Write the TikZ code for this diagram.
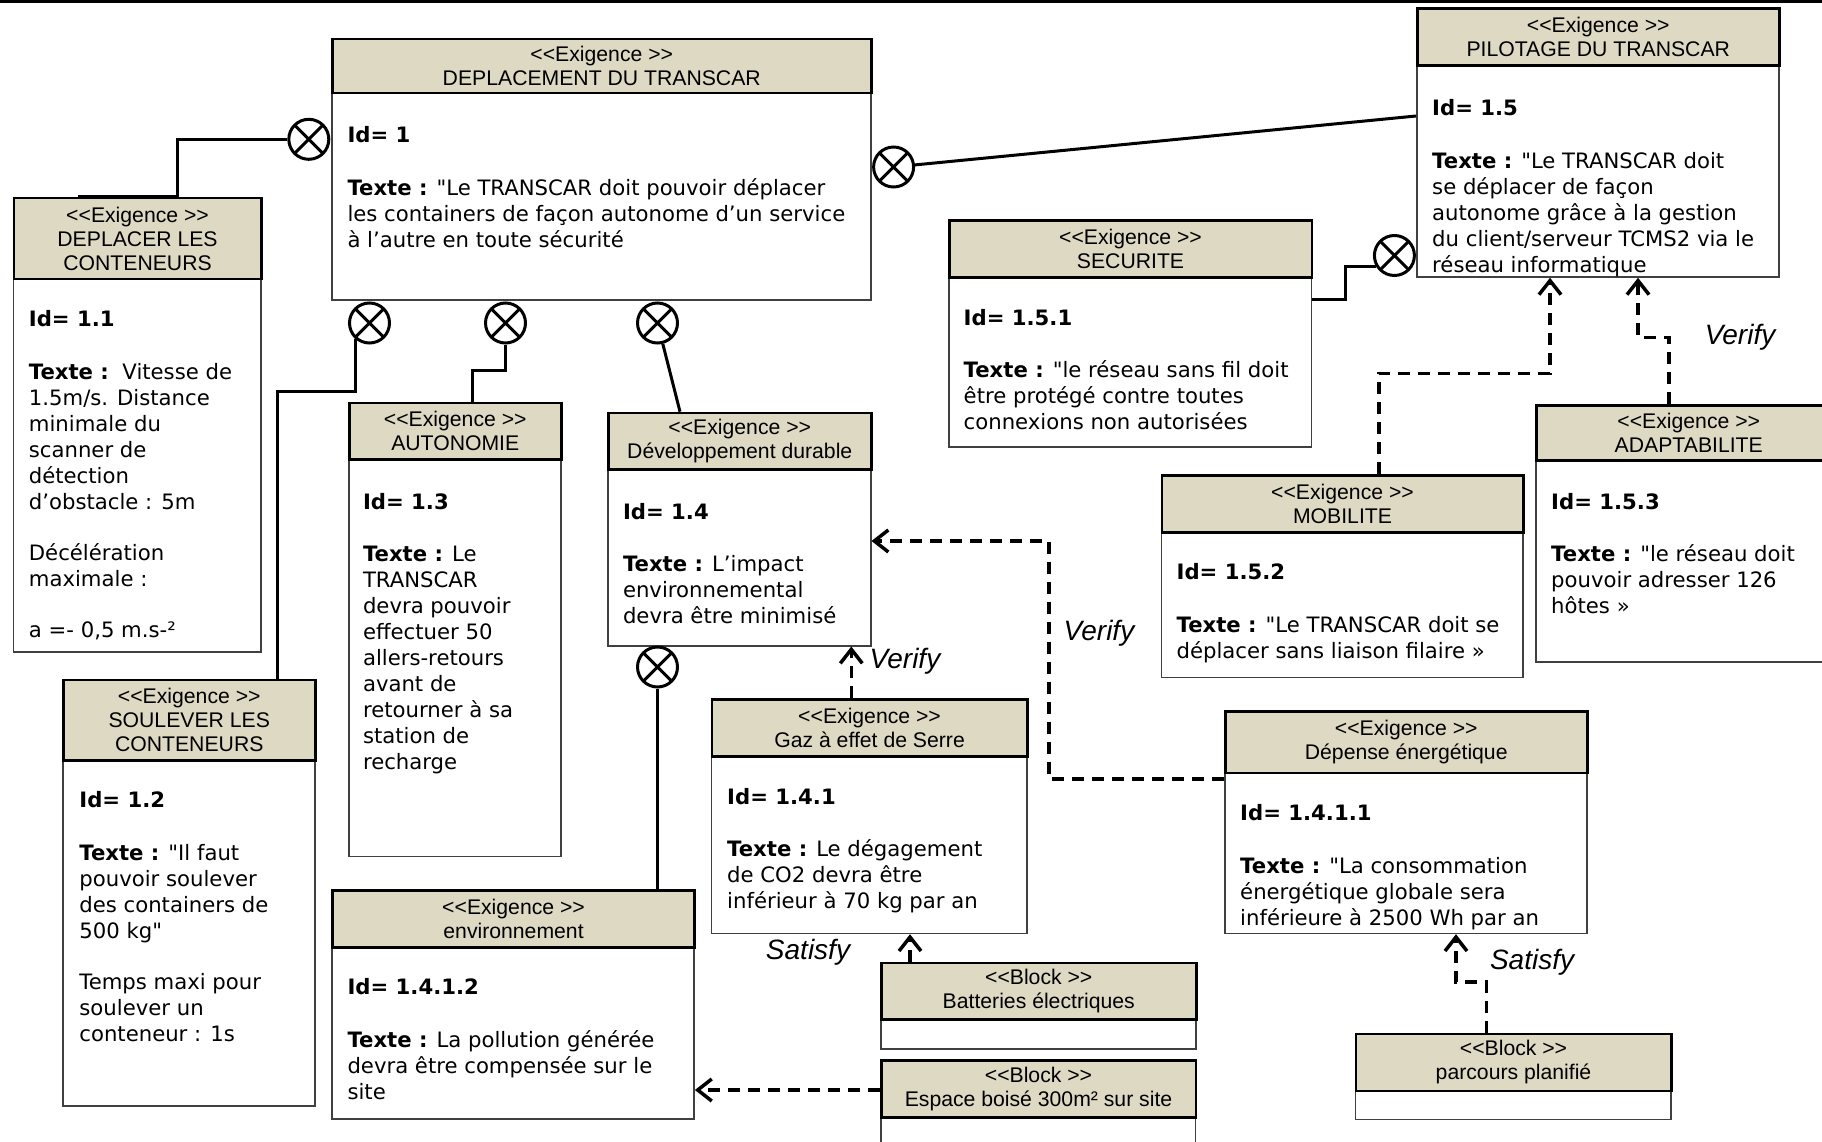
\documentclass[tikz,border=0pt]{standalone}
\usepackage{fontspec}
\setmainfont{DejaVu Sans}[Ligatures=TeXOff]
\newfontfamily\hdrfont{Liberation Sans}
\usetikzlibrary{arrows.meta}

\definecolor{hdrfill}{RGB}{221,217,195}

\newcommand\stereo[1]{<{}<#1 >{}>}

% requirement / block box: name, left, top, header bottom, right, bottom, header text
\newcommand\reqbox[7]{%
  \node[bodybox, minimum width={#5-#2}, minimum height={#6-#4}] (#1B) at (#2,#4) {};
  \node[hdrbox, minimum width={#5-#2}, minimum height={#4-#3}] (#1H) at (#2,#3) {#7};
}

\tikzset{
  x=1pt, y=-1pt,
  hdrbox/.style={draw=black, line width=2.5pt, fill=hdrfill, inner sep=0pt,
    align=center, anchor=north west,
    font=\hdrfont\fontsize{21.2pt}{24pt}\selectfont},
  bodybox/.style={draw=black!75, line width=1.5pt, fill=white, inner sep=0pt,
    anchor=north west},
  bodytext/.style={inner sep=0pt, anchor=north west, align=left,
    font=\fontsize{21.2pt}{26pt}\selectfont},
  xcirc/.style={circle, draw, line width=3pt, minimum size=40pt, inner sep=0pt,
    fill=white, path picture={\draw[line width=3pt]
      (path picture bounding box.north west) -- (path picture bounding box.south east)
      (path picture bounding box.north east) -- (path picture bounding box.south west);}},
  conn/.style={line width=3pt},
  trace/.style={line width=3.5pt, dash pattern=on 12pt off 8pt,
    -{Straight Barb[length=14pt,width=22pt]}},
  lbl/.style={inner sep=0pt, font=\hdrfont\itshape\fontsize{28pt}{30pt}\selectfont},
}

\begin{document}
\begin{tikzpicture}
\useasboundingbox (0,0) rectangle (1822,1142);
\clip (0,0) rectangle (1822,1142);
\fill[white] (0,0) rectangle (1822,1142);
\draw[line width=3pt] (0,1.5) -- (1822,1.5);

% ---- requirement boxes ----
\reqbox{dep}{331}{38}{92}{870}{299}{\stereo{Exigence}\\DEPLACEMENT DU TRANSCAR}
\reqbox{dpc}{12.6}{196.7}{277.7}{260}{651}{\stereo{Exigence}\\DEPLACER LES\\CONTENEURS}
\reqbox{slv}{62}{678.5}{759.3}{314}{1105}{\stereo{Exigence}\\SOULEVER LES\\CONTENEURS}
\reqbox{aut}{348}{401.7}{458.3}{560}{855.7}{\stereo{Exigence}\\AUTONOMIE}
\reqbox{dev}{607}{411.7}{468.3}{870}{645}{\stereo{Exigence}\\Développement durable}
\reqbox{gaz}{710.6}{698.3}{755}{1026}{932.7}{\stereo{Exigence}\\Gaz à effet de Serre}
\reqbox{env}{331.2}{889}{946}{693.4}{1118.3}{\stereo{Exigence}\\environnement}
\reqbox{nrj}{1224}{710}{771.7}{1586}{932.7}{\stereo{Exigence}\\Dépense énergétique}
\reqbox{pil}{1416}{7.5}{64.3}{1778}{276.3}{\stereo{Exigence}\\PILOTAGE DU TRANSCAR}
\reqbox{sec}{948}{219.3}{276}{1310.5}{446}{\stereo{Exigence}\\SECURITE}
\reqbox{mob}{1160.5}{474}{531}{1522}{676.7}{\stereo{Exigence}\\MOBILITE}
\reqbox{ada}{1535}{404}{459.3}{1840}{661}{\stereo{Exigence}\\ADAPTABILITE}

% ---- blocks ----
\reqbox{bat}{880}{961.7}{1018.3}{1195}{1048}{\stereo{Block}\\Batteries électriques}
\reqbox{esp}{880}{1059.3}{1116}{1194.5}{1160}{\stereo{Block}\\Espace boisé 300m² sur site}
\reqbox{par}{1354.5}{1032.5}{1089.5}{1670}{1118.7}{\stereo{Block}\\parcours planifié}

% ---- requirement texts ----
\node[bodytext] (depT) at (347.3,126) {\textbf{Id= 1}\\[27pt]\textbf{Texte :} "Le TRANSCAR doit pouvoir déplacer\\les containers de façon autonome d’un service\\à l’autre en toute sécurité};
\node[bodytext] (dpcT) at (28.7,310.3) {\textbf{Id= 1.1}\\[27pt]\textbf{Texte :}\ \ Vitesse de\\1.5m/s. Distance\\minimale du\\scanner de\\détection\\d’obstacle : 5m\\[25pt]Décélération\\maximale :\\[25pt]a =- 0,5 m.s-²};
\node[bodytext] (slvT) at (79.2,791) {\textbf{Id= 1.2}\\[27pt]\textbf{Texte :} "Il faut\\pouvoir soulever\\des containers de\\500 kg"\\[25.5pt]Temps maxi pour\\soulever un\\conteneur : 1s};
\node[bodytext] (autT) at (362.8,492.7) {\textbf{Id= 1.3}\\[26pt]\textbf{Texte :} Le\\TRANSCAR\\devra pouvoir\\effectuer 50\\allers-retours\\avant de\\retourner à sa\\station de\\recharge};
\node[bodytext] (devT) at (622.8,502.7) {\textbf{Id= 1.4}\\[26pt]\textbf{Texte :} L’impact\\environnemental\\devra être minimisé};
\node[bodytext] (gazT) at (727,787.7) {\textbf{Id= 1.4.1}\\[26.5pt]\textbf{Texte :} Le dégagement\\de CO2 devra être\\inférieur à 70 kg par an};
\node[bodytext] (envT) at (347.3,978.3) {\textbf{Id= 1.4.1.2}\\[27pt]\textbf{Texte :} La pollution générée\\devra être compensée sur le\\site};
\node[bodytext] (nrjT) at (1240,804.3) {\textbf{Id= 1.4.1.1}\\[27pt]\textbf{Texte :} "La consommation\\énergétique globale sera\\inférieure à 2500 Wh par an};
\node[bodytext] (pilT) at (1432,99) {\textbf{Id= 1.5}\\[27pt]\textbf{Texte :} "Le TRANSCAR doit\\se déplacer de façon\\autonome grâce à la gestion\\du client/serveur TCMS2 via le\\réseau informatique};
\node[bodytext] (secT) at (963.5,309.3) {\textbf{Id= 1.5.1}\\[26pt]\textbf{Texte :} "le réseau sans fil doit\\être protégé contre toutes\\connexions non autorisées};
\node[bodytext] (mobT) at (1176.4,563.3) {\textbf{Id= 1.5.2}\\[26.5pt]\textbf{Texte :} "Le TRANSCAR doit se\\déplacer sans liaison filaire »};
\node[bodytext] (adaT) at (1551,492.7) {\textbf{Id= 1.5.3}\\[26.5pt]\textbf{Texte :} "le réseau doit\\pouvoir adresser 126\\hôtes »};

% ---- containment markers ----
\node[xcirc] (c1) at (308.8,139.3) {};
\node[xcirc] (c2) at (893.6,167) {};
\node[xcirc] (c3) at (369.5,323) {};
\node[xcirc] (c4) at (505.5,323) {};
\node[xcirc] (c5) at (657.5,323) {};
\node[xcirc] (c6) at (657.5,667) {};
\node[xcirc] (c7) at (1394.4,255.5) {};

% ---- containment links ----
\draw[conn] (c1.west) -| ([xshift=164.4pt]dpcH.north west) -- ([xshift=65pt]dpcH.north west);
\draw[conn] (c2) -- (pilB.west |- 0,116);
\draw[conn] (c3.229) |- (277,391.7) -- (277,0 |- slvH.north);
\draw[conn] (c4.south) |- (472,370) -- (472,0 |- autH.north);
\draw[conn] (c5) -- (680,0 |- devH.north);
\draw[conn] (c6.south) -- (c6.south |- envH.north);
\draw[conn] (c7.211) -| (1345,299) -- (secB.east |- 0,299);

% ---- verify / satisfy links ----
\draw[trace] (1379,0 |- mobH.north) |- (1550,373.3) -- (1550,0 |- pilB.south);
\draw[trace] (1669,0 |- adaH.north) |- (1638,337.3) -- (1638,0 |- pilB.south);
\draw[trace] (nrjB.west |- 0,779) -| (1049,541) -- (devB.east |- 0,541);
\draw[trace] (851.3,0 |- gazH.north) -- (851.3,0 |- devB.south);
\draw[trace] (910,0 |- batH.north) -- (910,0 |- gazB.south);
\draw[trace] (espH.west |- 0,1090) -- (envB.east |- 0,1090);
\draw[trace] (1486.7,0 |- parH.north) |- (1456,982) -- (1456,0 |- nrjB.south);

% ---- link labels ----
\node[lbl] (lv1) at (1740,337) {Verify};
\node[lbl] (lv2) at (1099,633) {Verify};
\node[lbl] (lv3) at (905,661) {Verify};
\node[lbl] (ls1) at (808,952) {Satisfy};
\node[lbl] (ls2) at (1532,962) {Satisfy};
\end{tikzpicture}
\end{document}
